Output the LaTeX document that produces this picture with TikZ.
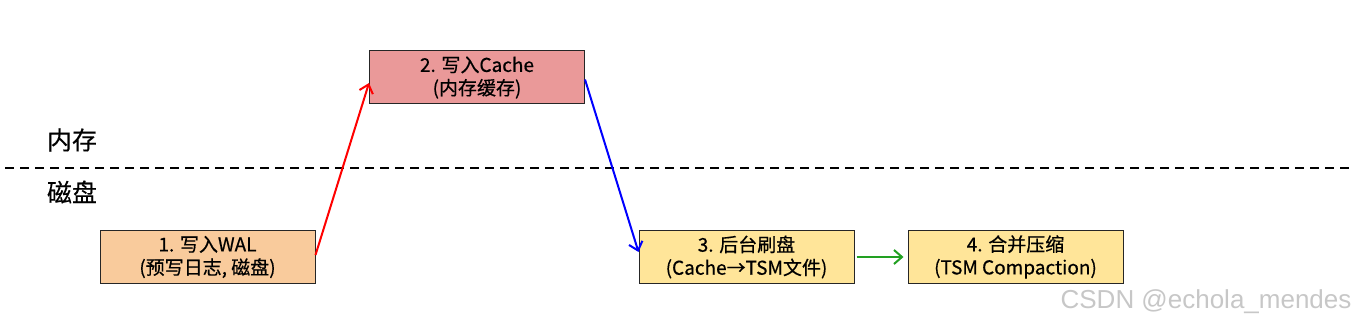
\documentclass[tikz,border=0pt]{standalone}
\usepackage{fontspec}
\setmainfont{Noto Sans CJK SC}[FakeBold=0.5]
\newfontfamily\zonefont{Noto Sans CJK SC}[FakeBold=0.3]
\newfontfamily\wmfont{Liberation Sans}
\usetikzlibrary{arrows.meta}
\definecolor{cpeach}{HTML}{F9CB9C}
\definecolor{cpink}{HTML}{EA9999}
\definecolor{cyel}{HTML}{FFE599}
\definecolor{cgreen}{HTML}{22A022}
\tikzset{
  stepbox/.style={draw=black!85, line width=1pt, minimum width=215pt, minimum height=53pt,
    align=center, inner sep=0pt, font=\fontsize{19}{23}\selectfont},
  conn/.style={line width=2pt, -{Straight Barb[length=8pt,width=14pt]}},
  zone/.style={font=\zonefont\fontsize{25}{28}\selectfont}
}
\begin{document}
\begin{tikzpicture}[x=1pt,y=-1pt]
\useasboundingbox (0,0) rectangle (1354,326);
\node[stepbox, fill=cpeach] (s1) at (207.5,257) {1. 写入WAL\\(预写日志, 磁盘)};
\node[stepbox, fill=cpink] (s2) at (477,77.5) {2. 写入Cache\\(内存缓存)};
\node[stepbox, fill=cyel] (s3) at (746.5,257) {3. 后台刷盘\\(Cache→TSM文件)};
\node[stepbox, fill=cyel] (s4) at (1015.5,257) {4. 合并压缩\\(TSM Compaction)};
\node[zone] (mem) at (72,140) {内存};
\node[zone] (disk) at (72,192) {磁盘};
\coordinate (dl) at (5,168);
\coordinate (dr) at (1352,168);
\draw[line width=1.8pt, dash pattern=on 9pt off 6pt] (dl) -- (dr);
\draw[conn, red] ([yshift=2pt]s1.east) -- ([yshift=-5.5pt]s2.west);
\draw[conn, blue] ([yshift=-2pt]s2.east) -- ([yshift=5pt]s3.west);
\draw[conn, cgreen] ([xshift=2pt]s3.east) -- ([xshift=-4pt]s4.west);
\node[font=\wmfont\fontsize{26}{28}\selectfont, text=black!22, anchor=east] (wm) at (1355,302) {CSDN @echola\_mendes};
\end{tikzpicture}
\end{document}
